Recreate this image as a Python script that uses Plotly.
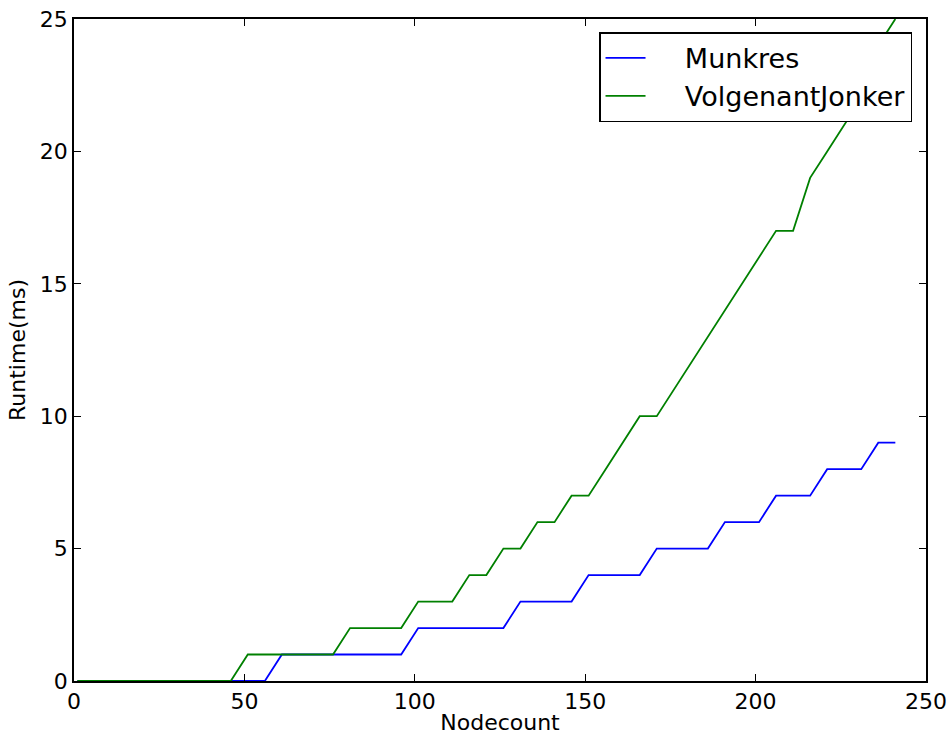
import plotly.graph_objects as go

nodecount = [1, 6, 11, 16, 21, 26, 31, 36, 41, 46, 51, 56, 61, 66, 71, 76, 81, 86, 91, 96,
             101, 106, 111, 116, 121, 126, 131, 136, 141, 146, 151, 156, 161, 166, 171, 176,
             181, 186, 191, 196, 201, 206, 211, 216, 221, 226, 231, 236, 241]
munkres = [0, 0, 0, 0, 0, 0, 0, 0, 0, 0, 0, 0, 1, 1, 1, 1, 1, 1, 1, 1,
           2, 2, 2, 2, 2, 2, 3, 3, 3, 3, 4, 4, 4, 4, 5, 5,
           5, 5, 6, 6, 6, 7, 7, 7, 8, 8, 8, 9, 9]
volgenant = [0, 0, 0, 0, 0, 0, 0, 0, 0, 0, 1, 1, 1, 1, 1, 1, 2, 2, 2, 2,
             3, 3, 3, 4, 4, 5, 5, 6, 6, 7, 7, 8, 9, 10, 10, 11,
             12, 13, 14, 15, 16, 17, 17, 19, 20, 21, 22, 24, 25]
x_ticks = [0, 50, 100, 150, 200, 250]
y_ticks = [0, 5, 10, 15, 20, 25]
series_names = ["Munkres", "VolgenantJonker"]

FONT = "DejaVu Sans"
PAD = "\u00a0" * 4

fig = go.Figure()
fig.add_trace(go.Scatter(x=nodecount, y=munkres, mode="lines", name=PAD + series_names[0],
                         line=dict(color="#0000ff", width=1.8)))
fig.add_trace(go.Scatter(x=nodecount, y=volgenant, mode="lines", name=PAD + series_names[1],
                         line=dict(color="#008000", width=1.8)))

axis_common = dict(showline=True, linecolor="black", linewidth=1.5, mirror="ticks",
                   ticks="inside", ticklen=7, tickwidth=1.2, tickcolor="black",
                   showgrid=False, zeroline=False, ticklabeloverflow="allow",
                   tickfont=dict(family=FONT, size=22, color="black"))

fig.update_xaxes(range=[0, 250], tickvals=x_ticks, ticktext=[str(v) for v in x_ticks],
                 title=dict(text="Nodecount", font=dict(family=FONT, size=22, color="black"),
                            standoff=4),
                 **axis_common)
fig.update_yaxes(range=[0, 25], tickvals=y_ticks, ticktext=[str(v) for v in y_ticks],
                 title=dict(text="Runtime(ms)", font=dict(family=FONT, size=22, color="black"),
                            standoff=8),
                 **axis_common)

fig.update_layout(
    width=951, height=735,
    margin=dict(l=74, r=25, t=19, b=54, autoexpand=False),
    plot_bgcolor="white", paper_bgcolor="white",
    font=dict(family=FONT, color="black"),
    legend=dict(x=0.9836, y=0.98, xanchor="right", yanchor="top",
                bgcolor="white", bordercolor="black", borderwidth=1.5,
                font=dict(family=FONT, size=27, color="black"),
                itemwidth=40),
    showlegend=True,
)

fig.write_html("out.html",
               config={"displayModeBar": False},
               post_script="document.body.style.margin='0';document.body.style.overflow='hidden';")
